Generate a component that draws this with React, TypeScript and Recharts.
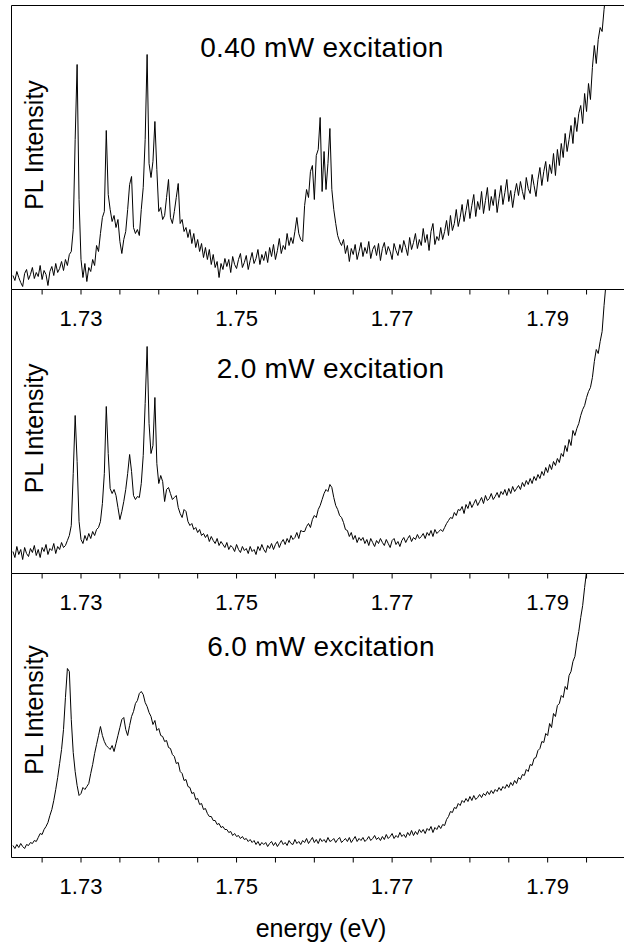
import React from 'react';
import { LineChart, Line, XAxis, YAxis, ReferenceLine } from 'recharts';

// ---- data ----
const E_START = 1.72125; // eV, first sample
const E_STEP = 0.00025; // eV, spectrometer step
const majorTicks = [1.73, 1.75, 1.77, 1.79];
const minorTicks = [1.725, 1.735, 1.74, 1.745, 1.755, 1.76, 1.765, 1.775, 1.78, 1.785, 1.795];
const panelTitles = ['0.40 mW excitation', '2.0 mW excitation', '6.0 mW excitation'];
const yLabel = 'PL Intensity';
const xLabel = 'energy (eV)';

// PL intensity (arb. units), 0.40 mW
const pl040 = [
  14, 9, 18, 12, 7, 3, 16, 20, 10, 15,
  22, 11, 17, 13, 24, 10, 19, 15, 4, 18,
  23, 14, 26, 17, 21, 28, 19, 30, 24, 35,
  38, 60, 150, 225, 90, 30, 12, 26, 8, 22,
  18, 30, 24, 44, 38, 56, 72, 78, 159, 95,
  80, 68, 74, 62, 70, 48, 36, 50, 58, 80,
  105, 113, 62, 56, 60, 54, 80, 102, 150, 235,
  126, 112, 128, 168, 120, 78, 82, 70, 74, 92,
  110, 72, 66, 78, 92, 106, 66, 70, 58, 62,
  52, 60, 46, 56, 42, 50, 38, 46, 32, 42,
  30, 40, 25, 35, 22, 28, 12, 26, 20, 31,
  23, 30, 17, 33, 25, 21, 30, 36, 22, 27,
  34, 20, 29, 37, 26, 31, 40, 25, 35, 29,
  38, 27, 42, 33, 45, 30, 39, 51, 36, 44,
  40, 56, 44, 52, 46, 58, 72, 56, 50, 48,
  84, 100, 92, 118, 124, 90, 134, 140, 172, 98,
  138, 100, 126, 161, 100, 80, 66, 54, 48, 44,
  50, 36, 44, 28, 41, 35, 45, 30, 38, 47,
  33, 42, 36, 48, 31, 40, 44, 34, 46, 29,
  41, 47, 35, 43, 38, 30, 46, 39, 34, 45,
  37, 49, 42, 34, 52, 40, 47, 56, 41, 50,
  44, 61, 47, 55, 39, 58, 66, 45, 53, 49,
  62, 50, 58, 69, 54, 74, 59, 66, 80, 63,
  72, 85, 68, 79, 90, 71, 84, 95, 73, 88,
  80, 98, 76, 89, 102, 79, 93, 84, 100, 77,
  91, 104, 85, 97, 110, 88, 99, 82, 96, 106,
  94, 108, 98, 90, 112, 101, 96, 115, 104, 93,
  110, 122, 104, 118, 128, 108, 125, 116, 136, 114,
  140, 124, 146, 132, 156, 138, 150, 164, 146, 172,
  158, 176, 184, 166, 196, 178, 206, 190, 222, 244,
  226, 250, 262, 258, 280, 298, 320, 340, 360, 380,
  400, 420, 440, 460, 480,
];

// PL intensity (arb. units), 2.0 mW
const pl20 = [
  22, 16, 27, 19, 24, 14, 26, 20, 17, 25,
  21, 28, 18, 24, 16, 26, 22, 29, 19, 25,
  23, 30, 20, 27, 24, 31, 26, 28, 33, 38,
  48, 100, 158, 112, 52, 34, 30, 38, 33, 40,
  35, 42, 38, 44, 46, 52, 70, 100, 167, 120,
  85, 80, 84, 78, 66, 54, 62, 72, 84, 100,
  119, 102, 78, 74, 77, 76, 90, 118, 170, 227,
  150, 120, 128, 176, 110, 90, 98, 92, 72, 84,
  86, 80, 74, 76, 78, 66, 60, 56, 64, 62,
  52, 48, 50, 44, 46, 41, 44, 38, 40, 36,
  39, 32, 37, 33, 30, 35, 28, 32, 29, 26,
  31, 24, 28, 26, 22, 29, 24, 21, 27, 23,
  25, 20, 27, 22, 24, 19, 27, 23, 29, 24,
  21, 28, 25, 30, 24, 29, 32, 26, 31, 34,
  29, 35, 31, 38, 34, 36, 41, 35, 43, 42,
  42, 47, 50, 46, 54, 58, 56, 64, 68, 74,
  80, 84, 82, 89, 86, 76, 68, 64, 58, 56,
  51, 44, 43, 37, 41, 34, 38, 31, 36, 33,
  36, 30, 34, 28, 35, 31, 27, 33, 30, 35,
  31, 28, 34, 30, 26, 33, 35, 29, 32, 27,
  33, 36, 31, 35, 38, 32, 36, 34, 39, 35,
  37, 40, 35, 41, 38, 43, 37, 44, 40, 42,
  44, 42, 46, 50, 53, 56, 55, 61, 58, 64,
  63, 67, 60, 69, 65, 72, 66, 70, 74, 68,
  72, 76, 70, 78, 73, 75, 80, 74, 77, 81,
  76, 82, 79, 84, 78, 85, 80, 87, 82, 85,
  88, 84, 91, 87, 93, 89, 95, 90, 97, 93,
  99, 95, 102, 98, 106, 101, 109, 104, 112, 108,
  115, 111, 120, 117, 128, 122, 134, 128, 143, 138,
  145, 150, 158, 164, 168, 176, 182, 186, 196, 212,
  224, 220, 232, 242, 268, 290, 315, 340, 365, 390,
  415, 440, 465, 490, 515,
];

// PL intensity (arb. units), 6.0 mW
const pl60 = [
  12, 9, 13, 10, 14, 11, 9, 13, 12, 15,
  14, 17, 16, 20, 24, 23, 28, 31, 35, 42,
  48, 57, 68, 80, 94, 108, 128, 160, 189, 186,
  138, 105, 86, 72, 62, 64, 70, 68, 71, 74,
  84, 93, 104, 113, 122, 131, 122, 116, 112, 110,
  108, 112, 106, 114, 122, 130, 138, 140, 128, 122,
  132, 141, 146, 154, 157, 164, 166, 163, 155, 151,
  145, 141, 133, 137, 127, 129, 122, 121, 116, 117,
  110, 109, 103, 101, 94, 95, 86, 84, 77, 78,
  71, 70, 64, 65, 58, 59, 53, 54, 48, 49,
  44, 41, 41, 37, 37, 33, 34, 30, 31, 28,
  28, 25, 26, 22, 24, 21, 22, 19, 21, 18,
  19, 16, 18, 15, 17, 13, 16, 12, 15, 13,
  15, 11, 14, 16, 12, 15, 11, 14, 17, 13,
  15, 12, 17, 14, 13, 18, 14, 16, 13, 17,
  15, 19, 14, 17, 20, 15, 18, 14, 19, 16,
  18, 15, 20, 16, 17, 19, 15, 18, 20, 15,
  17, 19, 16, 20, 15, 18, 21, 16, 19, 17,
  20, 16, 18, 21, 17, 19, 22, 18, 20, 17,
  21, 18, 23, 19, 21, 24, 19, 22, 20, 25,
  21, 23, 20, 25, 22, 27, 22, 26, 23, 28,
  25, 28, 24, 29, 27, 31, 25, 30, 28, 32,
  29, 33, 32, 38, 41, 46, 45, 50, 49, 54,
  52, 57, 55, 59, 56, 61, 57, 62, 58, 60,
  63, 60, 64, 62, 66, 63, 67, 64, 68, 66,
  70, 67, 71, 69, 73, 70, 75, 72, 77, 74,
  80, 78, 83, 82, 88, 86, 93, 92, 99, 100,
  107, 109, 116, 115, 124, 122, 134, 130, 144, 141,
  152, 154, 162, 160, 171, 168, 182, 186, 196, 201,
  215, 226, 240, 252, 270, 286, 305, 325, 345, 365,
  385, 405, 425, 445, 465, 485, 505, 525, 545, 565,
  585, 605, 625, 645, 665,
];

// ---- layout / styling ----
const X_MIN = 1.721064;
const X_MAX = 1.799814;
const Y_MAX = 284;
const FONT = '"Liberation Sans", Arial, Helvetica, sans-serif';

const data = pl040.map((v, i) => ({
  e: +(E_START + i * E_STEP).toFixed(5),
  p1: v,
  p2: pl20[i],
  p3: pl60[i],
}));
const allTicks = [...majorTicks, ...minorTicks].sort((a, b) => a - b);

const renderTick = (props: any) => {
  const { x, y, payload } = props;
  const v = payload.value;
  if (!majorTicks.some((m) => Math.abs(m - v) < 1e-9)) return <g />;
  return (
    <text x={x} y={y} dy="0.71em" textAnchor="middle" fontSize={22} fontFamily={FONT} fill="#000">
      {v.toFixed(2)}
    </text>
  );
};

function Panel({ dataKey, top, showTop }: { dataKey: string; top: number; showTop: boolean }) {
  return (
    <div style={{ position: 'absolute', left: 0, top }}>
      <LineChart width={624} height={339.5} data={data} margin={{ top: 5.5, right: 0, bottom: 0, left: 0 }}>
        <XAxis
          dataKey="e"
          type="number"
          domain={[X_MIN, X_MAX]}
          allowDataOverflow
          ticks={allTicks}
          interval={0}
          tick={renderTick}
          tickSize={5}
          tickMargin={16}
          height={50}
          stroke="#000"
          axisLine={{ stroke: '#000' }}
          tickLine={{ stroke: '#000' }}
        />
        <YAxis
          type="number"
          domain={[0, Y_MAX]}
          allowDataOverflow
          width={11.5}
          tick={false}
          tickLine={false}
          stroke="#000"
          axisLine={{ stroke: '#000' }}
        />
        {showTop && <ReferenceLine y={Y_MAX} stroke="#000" />}
        <Line
          type="linear"
          dataKey={dataKey}
          stroke="#000"
          strokeWidth={1}
          dot={false}
          activeDot={false}
          isAnimationActive={false}
        />
      </LineChart>
    </div>
  );
}

export default function App() {
  const titleStyle = { fontFamily: FONT, fontSize: 28, fill: '#000', letterSpacing: 0.3 } as any;
  const ylStyle = { fontFamily: FONT, fontSize: 25, fill: '#000' } as any;
  return (
    <div style={{ position: 'absolute', left: 0, top: 0, width: 624, height: 949, overflow: 'hidden', background: '#fff' }}>
      <Panel dataKey="p1" top={0} showTop={true} />
      <Panel dataKey="p2" top={284} showTop={false} />
      <Panel dataKey="p3" top={568} showTop={false} />
      <svg width={624} height={949} style={{ position: 'absolute', left: 0, top: 0, pointerEvents: 'none' }}>
        <text x={322} y={56.7} textAnchor="middle" style={titleStyle}>{panelTitles[0]}</text>
        <text x={330.5} y={378.3} textAnchor="middle" style={titleStyle}>{panelTitles[1]}</text>
        <text x={321} y={656} textAnchor="middle" style={titleStyle}>{panelTitles[2]}</text>
        <text x={43} y={145} textAnchor="middle" transform="rotate(-90 43 145)" style={ylStyle}>{yLabel}</text>
        <text x={43} y={428.3} textAnchor="middle" transform="rotate(-90 43 428.3)" style={ylStyle}>{yLabel}</text>
        <text x={43} y={710} textAnchor="middle" transform="rotate(-90 43 710)" style={ylStyle}>{yLabel}</text>
        <text x={321} y={937} textAnchor="middle" style={{ fontFamily: FONT, fontSize: 25, fill: '#000' }}>{xLabel}</text>
      </svg>
    </div>
  );
}
